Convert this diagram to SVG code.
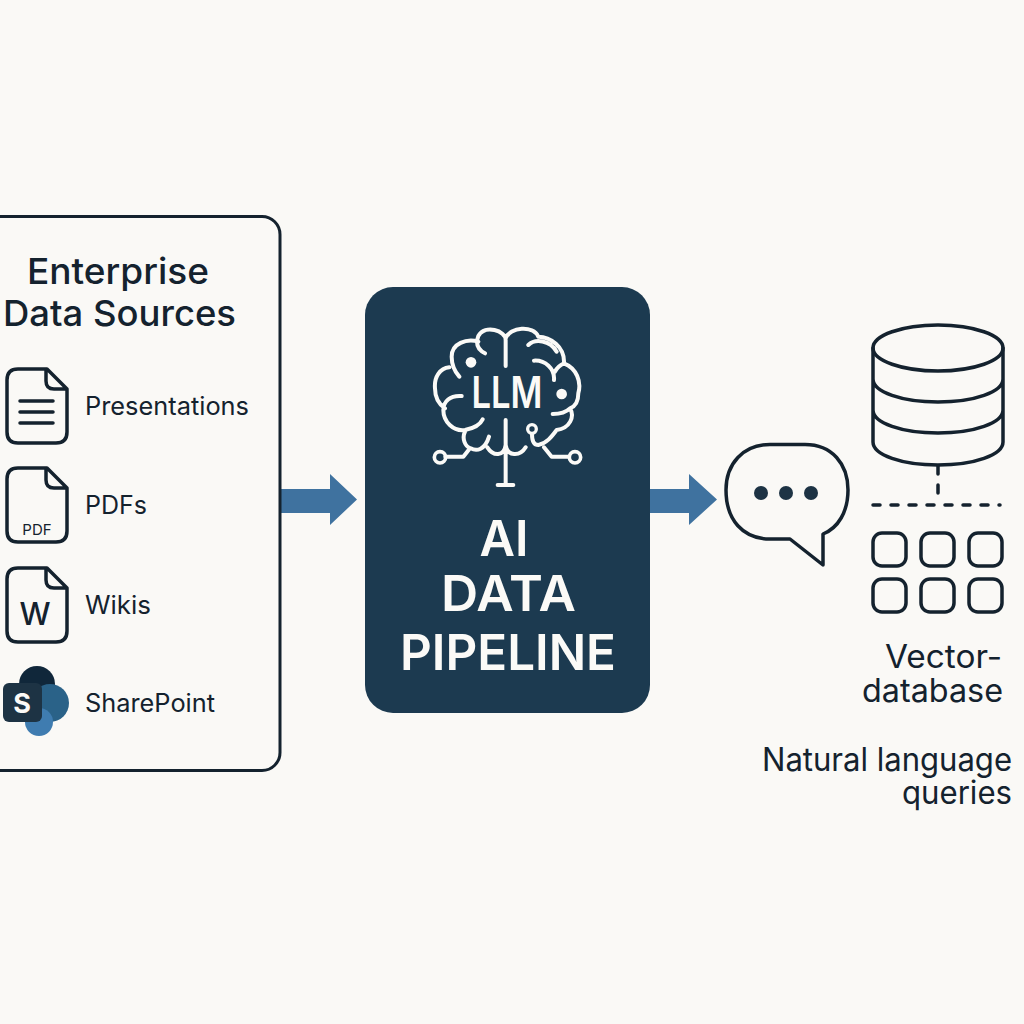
<svg xmlns="http://www.w3.org/2000/svg" width="1024" height="1024" viewBox="0 0 1024 1024">
<style>
text{font-family:Inter,"Noto Sans","Liberation Sans",sans-serif;fill:#14222e}
.ln{fill:none;stroke:#14222e;stroke-width:3.5;stroke-linecap:round;stroke-linejoin:round}
.br{fill:none;stroke:#fbfaf7;stroke-width:12;stroke-linecap:round;stroke-linejoin:round}
.lab{font-size:25px}
.big{font-size:36px;font-weight:500}
.vec{font-size:32px}
.mid{text-anchor:middle;fill:#fbfaf7!important;font-size:50px;font-weight:600}
.cell{fill:none;stroke:#14222e;stroke-width:3.5}
</style>
<defs>
<g id="doc"><path class="ln" d="M47 0H18Q7 0 7 11V63Q7 74 18 74H56Q67 74 67 63V20ZM46 0V12Q46 20 54 20H67"/></g>
</defs>
<rect width="1024" height="1024" fill="#faf9f6"/>
<g id="connectors">
<path fill="#3f729f" d="M281 489H330V474L357 499.500L330 525V513H281Z"/>
<path fill="#3f729f" d="M650 489H689V474L717 499.500L689 525V513H650Z"/>
</g>
<g id="sources">
<rect x="-20" y="216.500" width="300" height="554" rx="18" fill="none" stroke="#14222e" stroke-width="3"/>
<text class="big" x="118" y="284" text-anchor="middle" textLength="182" lengthAdjust="spacingAndGlyphs">Enterprise</text>
<text class="big" x="119.500" y="326" text-anchor="middle" textLength="233" lengthAdjust="spacingAndGlyphs">Data Sources</text>
</g>
<g id="presentations">
<use href="#doc" y="369"/>
<path class="ln" d="M20 401H53M20 412H53M20 423H53"/>
<text class="lab" x="85" y="415" textLength="164" lengthAdjust="spacingAndGlyphs">Presentations</text>
</g>
<g id="pdfs">
<use href="#doc" y="468"/>
<text x="37" y="535" text-anchor="middle" font-size="15">PDF</text>
<text class="lab" x="85" y="514">PDFs</text>
</g>
<g id="wikis">
<use href="#doc" y="568"/>
<text x="35" y="625" text-anchor="middle" font-size="31" font-weight="500">W</text>
<text class="lab" x="85" y="614" textLength="66" lengthAdjust="spacingAndGlyphs">Wikis</text>
</g>
<g id="sharepoint">
<circle cx="37" cy="684" r="18" fill="#10273a"/>
<circle cx="50" cy="703" r="19" fill="#2a6288"/>
<circle cx="39" cy="722" r="14" fill="#3f7cb0"/>
<rect x="3" y="683" width="39" height="39" rx="6" fill="#1d3344"/>
<text x="22" y="713" text-anchor="middle" font-size="27" font-weight="700" style="fill:#fbfaf7">S</text>
<text class="lab" x="85" y="712" textLength="130" lengthAdjust="spacingAndGlyphs">SharePoint</text>
</g>
<g id="pipeline">
<rect x="365" y="287" width="285" height="426" rx="28" fill="#1c3a50"/>
<g transform="translate(410 310) scale(.3333)">
<path class="br" d="M287 168V90C287 62 225 42 205 78C195 105 205 120 225 130M205 95C170 85 125 100 125 140C125 165 135 185 148 200M118 172C90 175 72 200 75 235C75 265 90 285 105 295M155 258C120 255 100 275 100 300C100 335 130 365 165 360C190 355 210 345 218 328M165 365C155 385 165 410 182 415C200 425 225 420 237 380M287 330V525M263 525H310M287 405C282 440 250 440 232 412M287 405C292 440 330 440 347 412M287 85C300 50 370 45 385 80C420 80 465 110 462 160C500 175 515 215 505 250C505 275 495 290 480 295C495 320 480 355 440 360C425 380 410 400 385 405C370 405 366 390 366 372M355 105C375 85 420 90 440 125M372 152C405 150 435 175 432 210M462 160C450 165 440 175 435 185M428 312C450 312 470 305 480 295M106 440H160L180 415M477 440H425L402 412"/>
<circle cx="90" cy="442" r="17" fill="none" stroke="#fbfaf7" stroke-width="11"/>
<circle cx="495" cy="442" r="17" fill="none" stroke="#fbfaf7" stroke-width="11"/>
<circle cx="366" cy="357" r="13" fill="none" stroke="#fbfaf7" stroke-width="10"/>
<circle cx="183" cy="157" r="16" fill="#fbfaf7"/>
<circle cx="455" cy="252" r="16" fill="#fbfaf7"/>
</g>
<text x="507" y="408" text-anchor="middle" font-size="44" font-weight="600" textLength="71" lengthAdjust="spacingAndGlyphs" style="fill:#fbfaf7">LLM</text>
<text class="mid" x="504" y="556" textLength="49" lengthAdjust="spacingAndGlyphs">AI</text>
<text class="mid" x="508.500" y="611" textLength="135" lengthAdjust="spacingAndGlyphs">DATA</text>
<text class="mid" x="508" y="670" textLength="216" lengthAdjust="spacingAndGlyphs">PIPELINE</text>
</g>
<g id="chat">
<path class="ln" d="M770 444.500H805C832 444.500 848 464 848 490C848 512 838 528 823 534V565L790 539H770C743 539 726 520 726 490C726 464 743 444.500 770 444.500Z"/>
<circle cx="761" cy="493" r="7" fill="#1d3344"/>
<circle cx="786" cy="493" r="7" fill="#1d3344"/>
<circle cx="811" cy="493" r="7" fill="#1d3344"/>
</g>
<g id="vector-database">
<ellipse class="ln" cx="938" cy="348" rx="65" ry="23"/>
<path class="ln" d="M873 348V442C873 455 902 465 938 465C974 465 1003 455 1003 442V348M873 379C873 392 902 402 938 402C974 402 1003 392 1003 379M873 410C873 423 902 433 938 433C974 433 1003 423 1003 410"/>
<path class="ln" d="M938 466V495" stroke-dasharray="8 11"/>
<path class="ln" d="M873 505H1000" stroke-dasharray="7 11"/>
<rect class="cell" x="873" y="533" width="33" height="33" rx="9"/>
<rect class="cell" x="921" y="533" width="33" height="33" rx="9"/>
<rect class="cell" x="969" y="533" width="33" height="33" rx="9"/>
<rect class="cell" x="873" y="579" width="33" height="33" rx="9"/>
<rect class="cell" x="921" y="579" width="33" height="33" rx="9"/>
<rect class="cell" x="969" y="579" width="33" height="33" rx="9"/>
<text class="vec" x="943.500" y="668" text-anchor="middle" textLength="117" lengthAdjust="spacingAndGlyphs">Vector-</text>
<text class="vec" x="932.500" y="702" text-anchor="middle" textLength="141" lengthAdjust="spacingAndGlyphs">database</text>
</g>
<g id="queries">
<text class="vec" x="887" y="771" text-anchor="middle" textLength="250" lengthAdjust="spacingAndGlyphs">Natural language</text>
<text class="vec" x="957" y="804" text-anchor="middle" textLength="110" lengthAdjust="spacingAndGlyphs">queries</text>
</g>
</svg>
